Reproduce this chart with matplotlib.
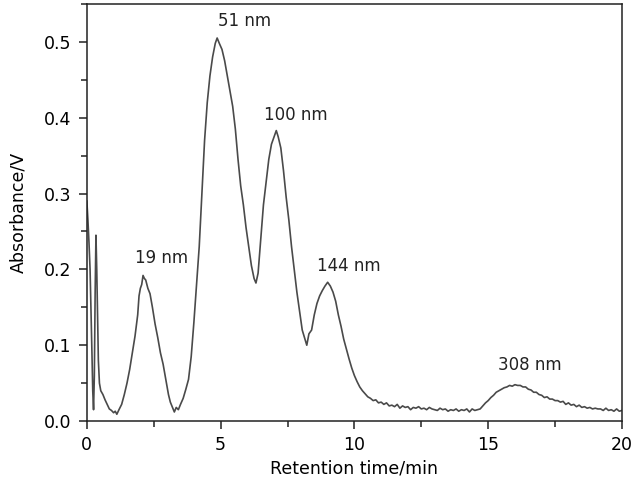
import matplotlib
matplotlib.use('Agg')
import matplotlib.pyplot as plt
import matplotlib.ticker as mticker

# ── DATA ─────────────────────────────────────────────────────────────────────
rt_min = [
    0.00, 0.04, 0.08, 0.12, 0.16, 0.19, 0.22, 0.25, 0.28, 0.31, 0.34, 0.37,
    0.40, 0.43, 0.47, 0.52, 0.60, 0.68, 0.76, 0.84, 0.92, 1.00, 1.06, 1.12,
    1.20, 1.30, 1.40, 1.50, 1.60, 1.70, 1.80, 1.90, 1.95, 2.00, 2.05, 2.10,
    2.15, 2.20, 2.28, 2.36, 2.45, 2.55, 2.65, 2.75, 2.85, 2.95, 3.05, 3.12,
    3.20, 3.27, 3.34, 3.42, 3.50, 3.60, 3.70, 3.80, 3.90, 4.00, 4.10, 4.20,
    4.30, 4.40, 4.50, 4.60, 4.70, 4.80, 4.87, 4.95, 5.05, 5.15, 5.25, 5.35,
    5.45, 5.55, 5.65, 5.75, 5.85, 5.95, 6.05, 6.15, 6.25, 6.32, 6.40, 6.50,
    6.60, 6.70, 6.80, 6.90, 7.00, 7.08, 7.15, 7.25, 7.35, 7.45, 7.55, 7.65,
    7.75, 7.85, 7.95, 8.05, 8.15, 8.22, 8.30, 8.40, 8.50, 8.60, 8.70, 8.80,
    8.90, 9.00, 9.10, 9.20, 9.30, 9.40, 9.50, 9.60, 9.70, 9.80, 9.90, 10.0,
    10.1, 10.2, 10.3, 10.4, 10.5, 10.6, 10.7, 10.8, 10.9, 11.0, 11.1, 11.2,
    11.3, 11.4, 11.5, 11.6, 11.7, 11.8, 11.9, 12.0, 12.1, 12.2, 12.3, 12.4,
    12.5, 12.6, 12.7, 12.8, 12.9, 13.0, 13.1, 13.2, 13.3, 13.4, 13.5, 13.6,
    13.7, 13.8, 13.9, 14.0, 14.1, 14.2, 14.3, 14.4, 14.5, 14.6, 14.7, 14.8,
    14.9, 15.0, 15.1, 15.2, 15.3, 15.4, 15.5, 15.6, 15.7, 15.8, 15.9, 16.0,
    16.1, 16.2, 16.3, 16.4, 16.5, 16.6, 16.7, 16.8, 16.9, 17.0, 17.1, 17.2,
    17.3, 17.4, 17.5, 17.6, 17.7, 17.8, 17.9, 18.0, 18.1, 18.2, 18.3, 18.4,
    18.5, 18.6, 18.7, 18.8, 18.9, 19.0, 19.1, 19.2, 19.3, 19.4, 19.5, 19.6,
    19.7, 19.8, 19.9, 20.0,
]
absorbance_v = [
    0.290, 0.265, 0.235, 0.200, 0.140, 0.090, 0.040, 0.015, 0.060, 0.170, 0.245, 0.200,
    0.140, 0.080, 0.050, 0.040, 0.035, 0.028, 0.022, 0.016, 0.014, 0.011, 0.013, 0.009,
    0.015, 0.022, 0.035, 0.050, 0.068, 0.090, 0.112, 0.140, 0.165, 0.175, 0.180, 0.192,
    0.188, 0.186, 0.175, 0.168, 0.150, 0.128, 0.110, 0.090, 0.075, 0.055, 0.035, 0.025,
    0.018, 0.012, 0.018, 0.015, 0.022, 0.030, 0.042, 0.055, 0.085, 0.130, 0.180, 0.230,
    0.300, 0.370, 0.420, 0.455, 0.480, 0.498, 0.505, 0.498, 0.490, 0.475, 0.455, 0.435,
    0.415, 0.385, 0.345, 0.310, 0.285, 0.255, 0.230, 0.205, 0.188, 0.182, 0.195, 0.240,
    0.285, 0.315, 0.345, 0.365, 0.375, 0.383, 0.375, 0.360, 0.330, 0.295, 0.265, 0.230,
    0.200, 0.170, 0.145, 0.120, 0.108, 0.100, 0.115, 0.120, 0.140, 0.155, 0.165, 0.172,
    0.178, 0.183, 0.178, 0.170, 0.158, 0.140, 0.125, 0.108, 0.095, 0.082, 0.070, 0.060,
    0.052, 0.045, 0.040, 0.036, 0.032, 0.030, 0.027, 0.028, 0.024, 0.025, 0.022, 0.024,
    0.020, 0.021, 0.019, 0.022, 0.017, 0.020, 0.018, 0.019, 0.015, 0.018, 0.017, 0.019,
    0.016, 0.017, 0.015, 0.018, 0.016, 0.015, 0.014, 0.017, 0.015, 0.016, 0.013, 0.015,
    0.014, 0.016, 0.013, 0.015, 0.014, 0.016, 0.012, 0.016, 0.014, 0.015, 0.016, 0.020,
    0.024, 0.027, 0.031, 0.034, 0.038, 0.040, 0.042, 0.044, 0.045, 0.047, 0.046, 0.048,
    0.047, 0.047, 0.045, 0.045, 0.042, 0.041, 0.038, 0.038, 0.035, 0.034, 0.031, 0.032,
    0.029, 0.029, 0.027, 0.027, 0.025, 0.026, 0.022, 0.024, 0.021, 0.022, 0.019, 0.021,
    0.018, 0.019, 0.017, 0.018, 0.016, 0.017, 0.016, 0.016, 0.014, 0.017, 0.014, 0.015,
    0.013, 0.016, 0.013, 0.014,
]

# peak labels: text, retention time, absorbance at label centre
peak_labels = ["19 nm", "51 nm", "100 nm", "144 nm", "308 nm"]
peak_x = [2.79, 5.91, 7.81, 9.78, 16.54]
peak_y = [0.215, 0.528, 0.404, 0.204, 0.074]

plt.rcParams['font.family'] = ['DejaVu Sans']

fig = plt.figure(figsize=(6.34, 4.84), dpi=100)
ax = fig.add_axes([0.137, 0.130, 0.844, 0.862])

ax.plot(rt_min, absorbance_v, color="#4a4a4a", linewidth=1.2)

for txt, x, y in zip(peak_labels, peak_x, peak_y):
    ax.text(x, y, txt, ha="center", va="center", fontsize=12, color="#222222")

ax.set_xlim(0, 20)
ax.set_ylim(0, 0.55)
ax.xaxis.set_major_locator(mticker.MultipleLocator(5))
ax.xaxis.set_minor_locator(mticker.MultipleLocator(2.5))
ax.yaxis.set_major_locator(mticker.MultipleLocator(0.1))
ax.yaxis.set_minor_locator(mticker.MultipleLocator(0.05))
ax.yaxis.set_major_formatter(mticker.FormatStrFormatter('%.1f'))
ax.tick_params(which="major", direction="out", length=6, width=1.1, labelsize=12.5,
               color="#222222", pad=5)
ax.tick_params(which="minor", direction="out", length=4, width=1.1, color="#222222")
for s in ax.spines.values():
    s.set_linewidth(1.1)
    s.set_color("#222222")

ax.set_xlabel("Retention time/min", fontsize=12.5, labelpad=4)
ax.set_ylabel("Absorbance/V", fontsize=12.5, labelpad=12)

fig.savefig("out.png", dpi=100)
